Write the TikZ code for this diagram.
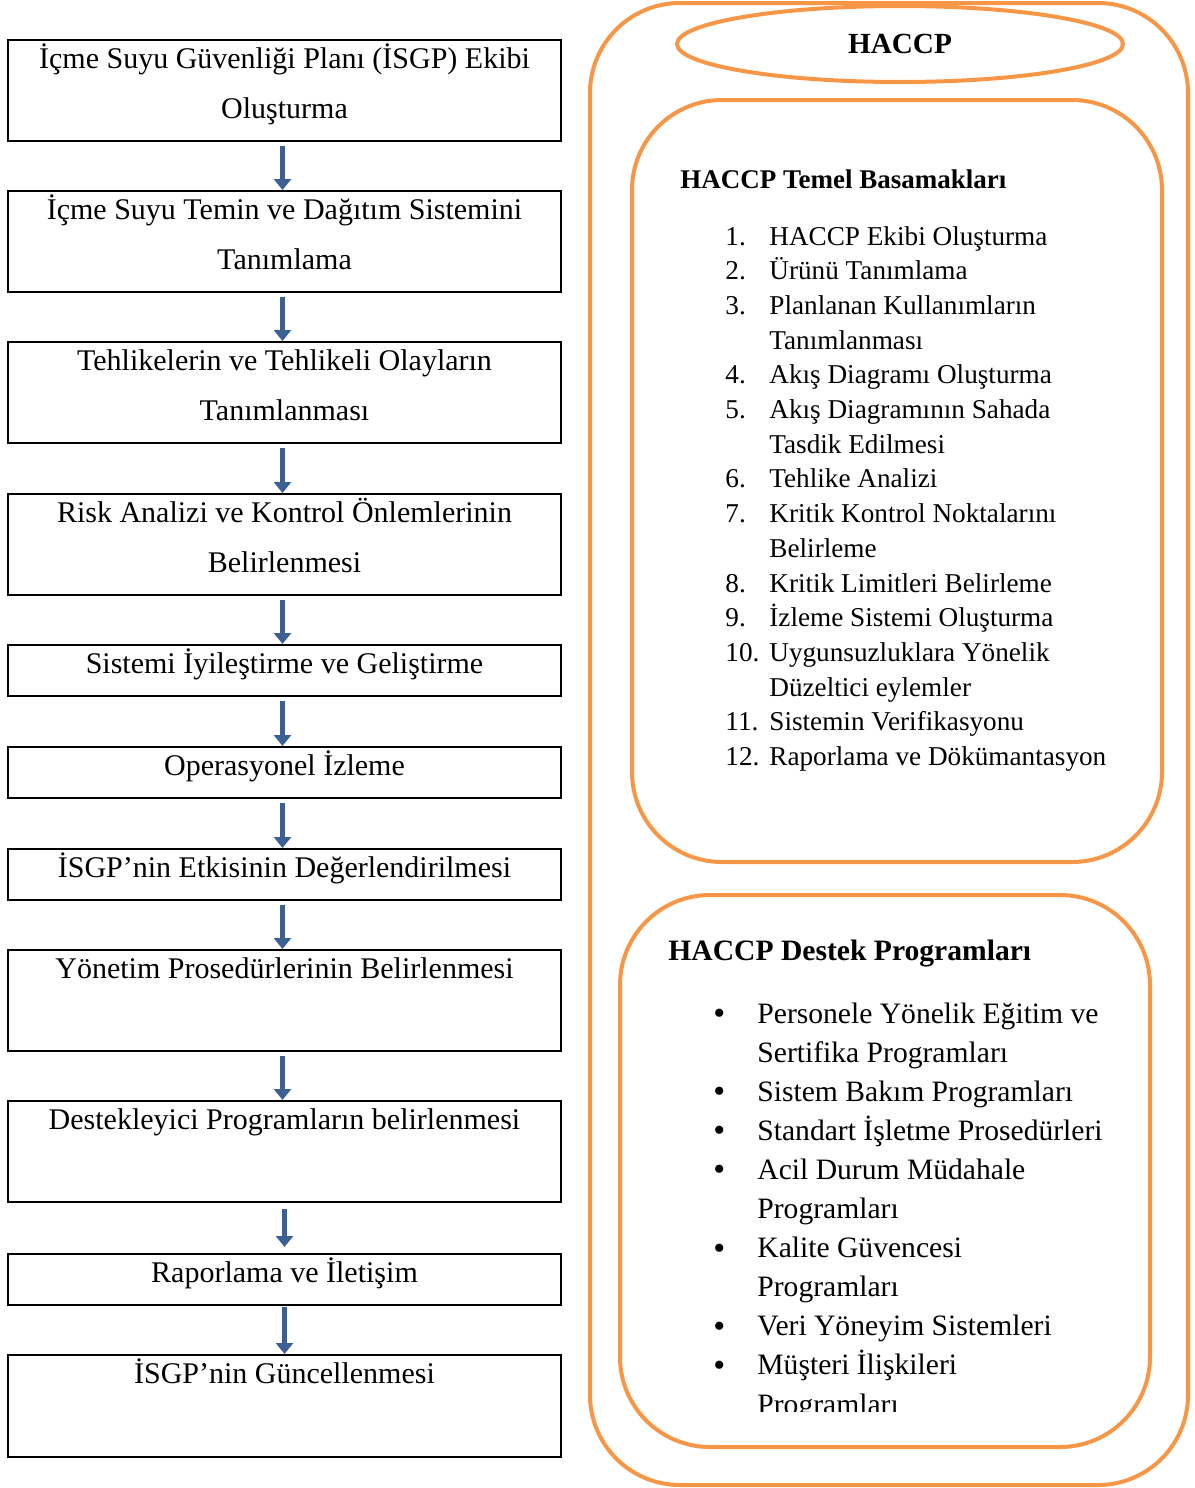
\documentclass[tikz,border=0pt]{standalone}
\usepackage{fontspec}
\setmainfont{Liberation Serif}
\usetikzlibrary{arrows.meta,fit,shapes.geometric}
\definecolor{haccporange}{HTML}{F79646}
\definecolor{arrowblue}{HTML}{3C6094}
\newcommand{\bigdot}{\raisebox{-0.7pt}{\fontsize{17}{17}\selectfont\textbullet}}
\tikzset{
  stepbox/.style={draw, line width=1pt, inner sep=0pt},
  steptext/.style={anchor=base, text width=272pt, align=flush center, inner sep=0pt,
                   font=\fontsize{15}{25}\selectfont},
  steparrow/.style={draw=arrowblue, line width=2.8pt, -{Triangle[width=8.5pt,length=5.5pt]}},
  roundbox/.style={draw=haccporange, line width=2pt, rounded corners=45pt, inner sep=0pt},
}
\begin{document}
\begin{tikzpicture}[x=0.5pt,y=-0.5pt]
            \useasboundingbox (0,0) rectangle (1194,1488);
            % ISGP steps
            \node[stepbox, fit={(8,40) (561,141)}] (s1) {};
            \node[stepbox, fit={(8,191) (561,292)}] (s2) {};
            \node[stepbox, fit={(8,342) (561,443)}] (s3) {};
            \node[stepbox, fit={(8,494) (561,595)}] (s4) {};
            \node[stepbox, fit={(8,645) (561,696)}] (s5) {};
            \node[stepbox, fit={(8,747) (561,798)}] (s6) {};
            \node[stepbox, fit={(8,849) (561,900)}] (s7) {};
            \node[stepbox, fit={(8,950) (561,1051)}] (s8) {};
            \node[stepbox, fit={(8,1101) (561,1202)}] (s9) {};
            \node[stepbox, fit={(8,1254) (561,1305)}] (s10) {};
            \node[stepbox, fit={(8,1355) (561,1457)}] (s11) {};
            \node[steptext] (t1) at ([yshift=-14.5pt]s1.north) {İçme Suyu Güvenliği Planı (İSGP) Ekibi\\Oluşturma};
            \node[steptext] (t2) at ([yshift=-14.5pt]s2.north) {İçme Suyu Temin ve Dağıtım Sistemini\\Tanımlama};
            \node[steptext] (t3) at ([yshift=-14.5pt]s3.north) {Tehlikelerin ve Tehlikeli Olayların\\Tanımlanması};
            \node[steptext] (t4) at ([yshift=-14.5pt]s4.north) {Risk Analizi ve Kontrol Önlemlerinin\\Belirlenmesi};
            \node[steptext] (t5) at ([yshift=-14.5pt]s5.north) {Sistemi İyileştirme ve Geliştirme};
            \node[steptext] (t6) at ([yshift=-14.5pt]s6.north) {Operasyonel İzleme};
            \node[steptext] (t7) at ([yshift=-14.5pt]s7.north) {İSGP’nin Etkisinin Değerlendirilmesi};
            \node[steptext] (t8) at ([yshift=-14.5pt]s8.north) {Yönetim Prosedürlerinin Belirlenmesi};
            \node[steptext] (t9) at ([yshift=-14.5pt]s9.north) {Destekleyici Programların belirlenmesi};
            \node[steptext] (t10) at ([yshift=-14.5pt]s10.north) {Raporlama ve İletişim};
            \node[steptext] (t11) at ([yshift=-14.5pt]s11.north) {İSGP’nin Güncellenmesi};
            \draw[steparrow] ([xshift=-1pt,yshift=-2pt]s1.south) -- ([xshift=-1pt]s2.north);
            \draw[steparrow] ([xshift=-1pt,yshift=-2pt]s2.south) -- ([xshift=-1pt]s3.north);
            \draw[steparrow] ([xshift=-1pt,yshift=-2pt]s3.south) -- ([xshift=-1pt]s4.north);
            \draw[steparrow] ([xshift=-1pt,yshift=-2pt]s4.south) -- ([xshift=-1pt]s5.north);
            \draw[steparrow] ([xshift=-1pt,yshift=-2pt]s5.south) -- ([xshift=-1pt]s6.north);
            \draw[steparrow] ([xshift=-1pt,yshift=-2pt]s6.south) -- ([xshift=-1pt]s7.north);
            \draw[steparrow] ([xshift=-1pt,yshift=-2pt]s7.south) -- ([xshift=-1pt]s8.north);
            \draw[steparrow] ([xshift=-1pt,yshift=-2pt]s8.south) -- ([xshift=-1pt]s9.north);
            \draw[steparrow] ([yshift=-3pt]s9.south) -- ([yshift=3pt]s10.north);
            \draw[steparrow] ([yshift=-0.5pt]s10.south) -- (s11.north);
            % HACCP side
            \node[roundbox, fit={(590,3) (1188,1485)}] (outer) {};
            \node[draw=haccporange, line width=2pt, ellipse, minimum width=223pt, minimum height=38pt,
                  inner sep=0pt, font=\bfseries\fontsize{14.6}{17}\selectfont] (haccp) at (900,44) {HACCP};
            \node[roundbox, fit={(632,100) (1162,862)}] (temel) {};
            \node[roundbox, fit={(620,895) (1150,1447)}] (destek) {};
            \node[anchor=base west, inner sep=0pt, font=\bfseries\fontsize{13.5}{17}\selectfont]
                (temeltitle) at (680,188) {HACCP Temel Basamakları};
            \node[anchor=base west, inner sep=0pt, font=\fontsize{13.6}{17.35}\selectfont]
                (temellist) at (725,245) {\begin{tabular}[t]{@{}p{22pt}@{}l@{}}
                1. & HACCP Ekibi Oluşturma\\
                2. & Ürünü Tanımlama\\
                3. & Planlanan Kullanımların\\
                   & Tanımlanması\\
                4. & Akış Diagramı Oluşturma\\
                5. & Akış Diagramının Sahada\\
                   & Tasdik Edilmesi\\
                6. & Tehlike Analizi\\
                7. & Kritik Kontrol Noktalarını\\
                   & Belirleme\\
                8. & Kritik Limitleri Belirleme\\
                9. & İzleme Sistemi Oluşturma\\
                10. & Uygunsuzluklara Yönelik\\
                   & Düzeltici eylemler\\
                11. & Sistemin Verifikasyonu\\
                12. & Raporlama ve Dökümantasyon
                \end{tabular}};
            \node[anchor=base west, inner sep=0pt, font=\bfseries\fontsize{14.8}{19}\selectfont]
                (destektitle) at (668,960) {HACCP Destek Programları};
            \begin{scope}
                \clip (700,990) rectangle (1140,1411);
                \node[anchor=base west, inner sep=0pt, font=\fontsize{14.8}{19.55}\selectfont]
                    (desteklist) at (713,1023) {\begin{tabular}[t]{@{}p{22pt}@{}l@{}}
                    \bigdot & Personele Yönelik Eğitim ve\\
                            & Sertifika Programları\\
                    \bigdot & Sistem Bakım Programları\\
                    \bigdot & Standart İşletme Prosedürleri\\
                    \bigdot & Acil Durum Müdahale\\
                            & Programları\\
                    \bigdot & Kalite Güvencesi\\
                            & Programları\\
                    \bigdot & Veri Yöneyim Sistemleri\\
                    \bigdot & Müşteri İlişkileri\\
                            & Programları
                    \end{tabular}};
            \end{scope}
\end{tikzpicture}
\end{document}
